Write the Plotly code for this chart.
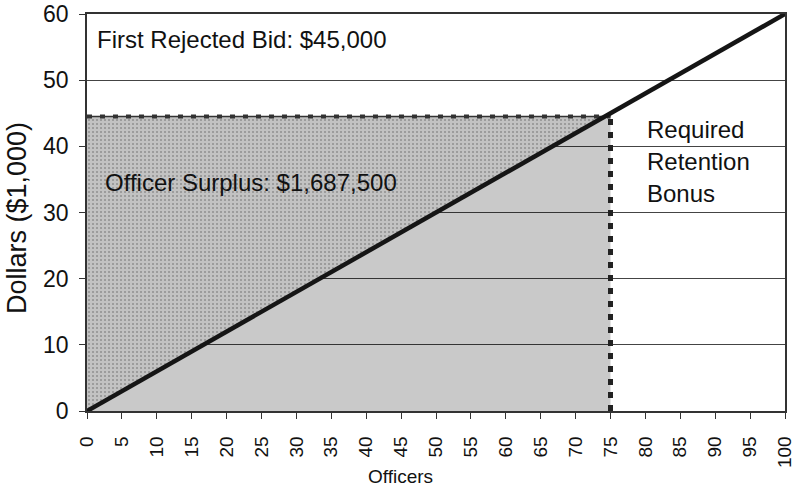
import plotly.graph_objects as go

# supply of officers: reservation wage (thousand $) vs number of officers
line_x = [0, 100]
line_y = [0, 60]

bid = 44.5          # first rejected bid (labelled $45,000)
quota = 75          # officers required
quota_wage = 45     # wage on the supply line at the quota

x_ticks = list(range(0, 101, 5))
y_ticks = list(range(0, 61, 10))

labels = {
    "bid": "First Rejected Bid: $45,000",
    "surplus": "Officer Surplus: $1,687,500",
    "bonus": ["Required", "Retention", "Bonus"],
    "x": "Officers",
    "y": "Dollars ($1,000)",
}

FONT = "Liberation Sans, Arial, sans-serif"

W, H = 798, 489
L, R, T, B = 87, 13, 14, 78

fig = go.Figure()

# light grey area under the supply curve up to the quota
fig.add_trace(go.Scatter(
    x=[line_x[0], quota], y=[line_y[0], quota_wage],
    mode="lines", line=dict(width=0),
    fill="tozeroy", fillcolor="rgba(0,0,0,0.21)",
    showlegend=False, hoverinfo="skip",
))

# stippled officer surplus between the curve and the bid
fig.add_trace(go.Scatter(
    x=[line_x[0], quota], y=[line_y[0], quota_wage],
    mode="lines", line=dict(width=0), showlegend=False, hoverinfo="skip",
))
fig.add_trace(go.Scatter(
    x=[line_x[0], quota], y=[bid, bid],
    mode="lines", line=dict(width=0),
    fill="tonexty", fillcolor="#c2c2c2",
    fillpattern=dict(shape=".", fgcolor="#626262", bgcolor="#c2c2c2",
                     size=4, solidity=0.22),
    showlegend=False, hoverinfo="skip",
))

# bid level: thin line with square dots
fig.add_trace(go.Scatter(
    x=[line_x[0], quota], y=[bid, bid], mode="lines",
    line=dict(color="#333333", width=1.5), showlegend=False, hoverinfo="skip",
))
fig.add_trace(go.Scatter(
    x=[line_x[0], quota], y=[bid, bid], mode="lines",
    line=dict(color="#333333", width=4, dash="5px,8px"),
    showlegend=False, hoverinfo="skip",
))

# quota: vertical square-dotted line
fig.add_trace(go.Scatter(
    x=[quota, quota], y=[0, bid], mode="lines",
    line=dict(color="#222222", width=5, dash="6px,7px"),
    showlegend=False, hoverinfo="skip",
))

# supply curve
fig.add_trace(go.Scatter(
    x=line_x, y=line_y, mode="lines",
    line=dict(color="#151515", width=4.5),
    showlegend=False, hoverinfo="skip",
))

txt = dict(family=FONT, size=24, color="#111")
fig.add_annotation(x=1.1, y=56.1, text=labels["bid"], showarrow=False,
                   xanchor="left", yanchor="middle", font=txt)
fig.add_annotation(x=2.3, y=34.5, text=labels["surplus"], showarrow=False,
                   xanchor="left", yanchor="middle", font=txt)
for i, word in enumerate(labels["bonus"]):
    fig.add_annotation(x=79.9, y=42.6 - i * 4.85, text=word, showarrow=False,
                       xanchor="left", yanchor="middle", font=txt)


def px_to_paper(px, py):
    # pixel position on the page -> paper fraction of the plot area
    return ((px - L) / (W - L - R), (H - B - py) / (H - T - B))


# axis titles as paper annotations (placed like the original)
xt = px_to_paper(400, 477)
fig.add_annotation(x=xt[0], y=xt[1], xref="paper", yref="paper",
                   xanchor="center", yanchor="middle",
                   text=labels["x"], showarrow=False,
                   font=dict(family=FONT, size=19, color="#111"))
yt = px_to_paper(17, 218)
fig.add_annotation(x=yt[0], y=yt[1], xref="paper", yref="paper",
                   xanchor="center", yanchor="middle",
                   text=labels["y"], textangle=-90, showarrow=False,
                   font=dict(family=FONT, size=27, color="#111"))

fig.update_xaxes(
    range=[0, 100], tickvals=x_ticks, ticktext=[str(v) for v in x_ticks],
    tickangle=-90, ticks="outside", ticklen=6, tickcolor="#333",
    ticklabelstandoff=10, ticklabeloverflow="allow",
    tickfont=dict(family=FONT, size=19, color="#111"),
    showline=True, linecolor="#333", linewidth=1.5, mirror=True,
    showgrid=False, zeroline=False, automargin=False,
)
fig.update_yaxes(
    range=[0, 60], tickvals=y_ticks, ticks="outside", ticklen=6,
    tickcolor="#333", ticklabelstandoff=6, ticklabeloverflow="allow",
    tickfont=dict(family=FONT, size=23, color="#111"),
    showline=True, linecolor="#333", linewidth=1.5, mirror=True,
    showgrid=True, gridcolor="#444444", gridwidth=1, zeroline=False,
    automargin=False,
)

fig.update_layout(
    width=W, height=H,
    margin=dict(l=L, r=R, t=T, b=B),
    plot_bgcolor="white", paper_bgcolor="white",
)

# drop the browser's default 8px body margin so the figure sits at the corner
fig.write_html("out.html", config={"displayModeBar": False},
               post_script="document.body.style.margin = '0';")
